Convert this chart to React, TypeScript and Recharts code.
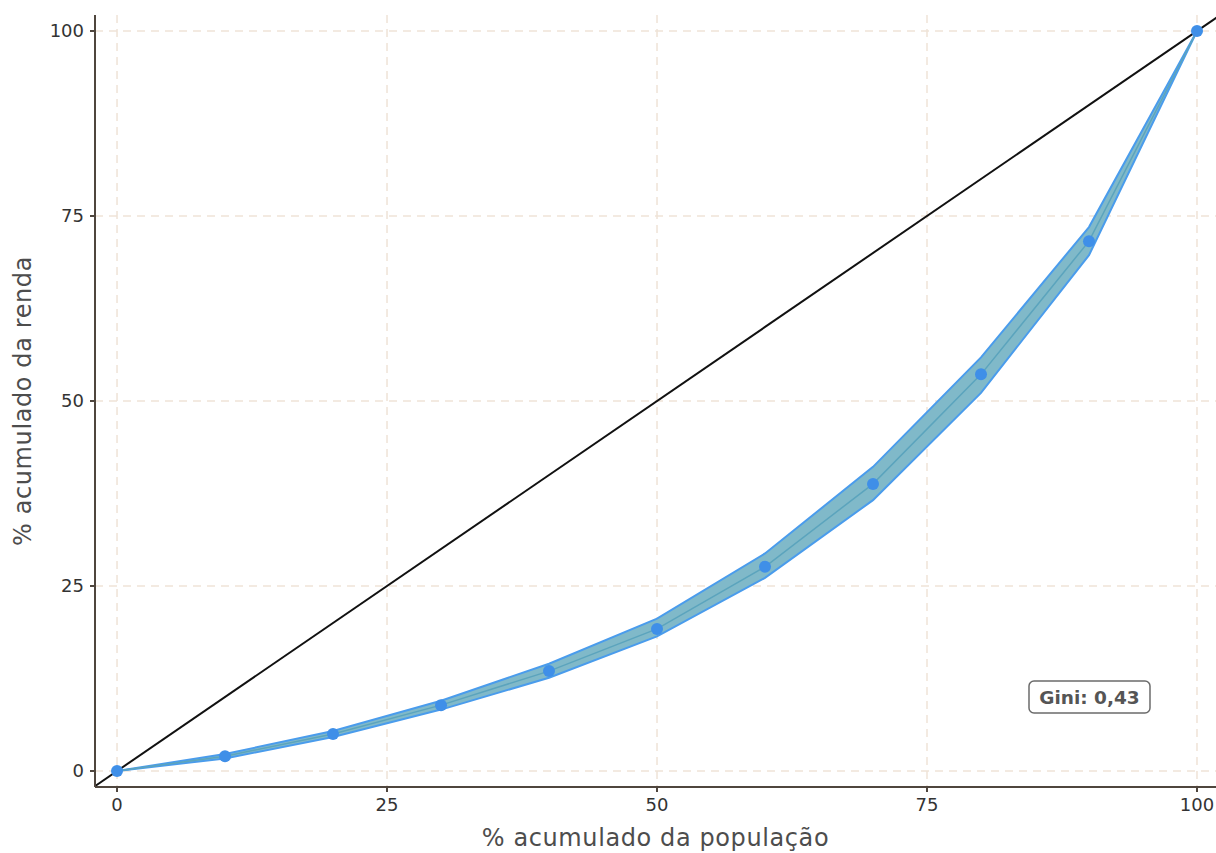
import {
  ComposedChart,
  Area,
  Line,
  XAxis,
  YAxis,
  CartesianGrid,
  ReferenceLine,
  ReferenceDot,
} from "recharts";

// % acumulado da população (decis)
const populacao = [0, 10, 20, 30, 40, 50, 60, 70, 80, 90, 100];
// % acumulado da renda: estimativa central e intervalo
const rendaMedia = [0, 2.0, 5.0, 8.9, 13.5, 19.2, 27.6, 38.8, 53.6, 71.6, 100];
const rendaInf = [0, 1.7, 4.6, 8.3, 12.6, 18.2, 26.1, 36.6, 51.1, 69.7, 100];
const rendaSup = [0, 2.3, 5.4, 9.5, 14.5, 20.6, 29.4, 41.1, 55.9, 73.5, 100];
const ticks = [0, 25, 50, 75, 100];
const giniLabel = "Gini: 0,43";
const giniPos = { x: 90, y: 10 };

const data = populacao.map((p, i) => ({
  pop: p,
  media: rendaMedia[i],
  faixa: [rendaInf[i], rendaSup[i]],
}));

const FONT = "'DejaVu Sans', 'Open Sans', sans-serif";
const AXIS = "#4f463e";
const GRID = "#efe3d7";

const GiniBox = (props: any) => {
  const { viewBox } = props;
  const cx = viewBox.x;
  const cy = viewBox.y;
  return (
    <g>
      <rect
        x={cx - 60}
        y={cy - 16}
        width={121}
        height={32}
        rx={5}
        fill="#fff"
        stroke="#6b6b6b"
        strokeWidth={1.5}
      />
      <text
        x={cx + 0.5}
        y={cy + 6.5}
        textAnchor="middle"
        fontFamily={FONT}
        fontWeight={700}
        fontSize={18.5}
        fill="#555"
      >
        {giniLabel}
      </text>
    </g>
  );
};

export default function App() {
  return (
    <div style={{ position: "absolute", left: 0, top: 0, background: "#fff" }}>
      <ComposedChart
        width={1216}
        height={853}
        data={data}
        margin={{ top: 15, right: 0, bottom: 0, left: 0 }}
        style={{ fontFamily: FONT }}
      >
        <CartesianGrid
          stroke={GRID}
          strokeWidth={1.5}
          strokeDasharray="8 6"
          horizontalValues={ticks}
          verticalValues={ticks}
        />
        <XAxis
          dataKey="pop"
          type="number"
          domain={[-2.04, 101.76]}
          ticks={ticks}
          allowDataOverflow
          height={66}
          stroke={AXIS}
          strokeWidth={2}
          tickSize={5}
          tickMargin={6}
          tick={{ fill: "#333", fontSize: 18 }}
          label={{
            value: "% acumulado da população",
            position: "insideBottom",
            offset: 7,
            fill: "#4d4d4d",
            fontSize: 24,
            letterSpacing: 0.6,
          }}
        />
        <YAxis
          type="number"
          domain={[-2.16, 102.16]}
          ticks={ticks}
          allowDataOverflow
          width={95}
          stroke={AXIS}
          strokeWidth={2}
          tickSize={5}
          tickMargin={6}
          tick={{ fill: "#333", fontSize: 18 }}
          label={{
            value: "% acumulado da renda",
            angle: -90,
            position: "insideLeft",
            offset: 22,
            fill: "#4d4d4d",
            fontSize: 24,
            letterSpacing: 0.6,
            style: { textAnchor: "middle" },
          }}
        />
        <ReferenceLine
          segment={[
            { x: -10, y: -10 },
            { x: 110, y: 110 },
          ]}
          stroke="#111"
          strokeWidth={2}
          ifOverflow="hidden"
        />
        <Area
          dataKey="faixa"
          type="linear"
          stroke="#4a9cec"
          strokeWidth={2}
          fill="#80b9c9"
          fillOpacity={1}
          isAnimationActive={false}
        />
        <Line
          dataKey="media"
          type="linear"
          stroke="#5ba4bd"
          strokeWidth={1.5}
          dot={{ r: 6, fill: "#3f8fe8", stroke: "none" }}
          isAnimationActive={false}
        />
        <ReferenceDot
          x={giniPos.x}
          y={giniPos.y}
          r={0}
          stroke="none"
          label={<GiniBox />}
        />
      </ComposedChart>
    </div>
  );
}
